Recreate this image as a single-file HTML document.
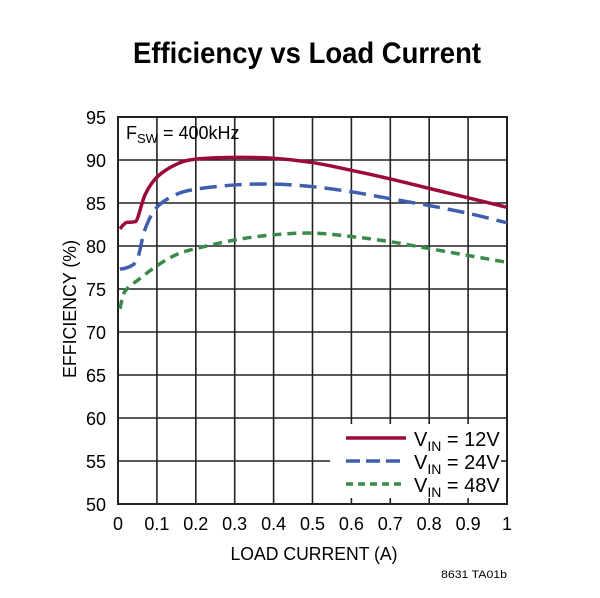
<!DOCTYPE html>
<html><head><meta charset="utf-8"><style>
html,body{margin:0;padding:0;background:#fff;}
svg{display:block;font-family:"Liberation Sans Narrow","Liberation Sans",sans-serif;}
</style></head><body>
<svg id="chart" width="600" height="598" viewBox="0 0 600 598" xmlns="http://www.w3.org/2000/svg">
<text x="307" y="63" text-anchor="middle" font-size="30" font-weight="bold" textLength="348" lengthAdjust="spacingAndGlyphs">Efficiency vs Load Current</text>
<g id="grid"></g>
<g id="series"></g>
<g id="legend"></g>
<text x="126" y="139" font-size="18">F<tspan font-size="13" dy="4">SW</tspan><tspan dy="-4"> = 400kHz</tspan></text>
<text transform="translate(76,309) rotate(-90)" text-anchor="middle" font-size="18" textLength="138" lengthAdjust="spacingAndGlyphs">EFFICIENCY (%)</text>
<text x="314" y="560" text-anchor="middle" font-size="18" textLength="167" lengthAdjust="spacingAndGlyphs">LOAD CURRENT (A)</text>
<text x="507" y="578" text-anchor="end" font-size="11" textLength="66" lengthAdjust="spacingAndGlyphs">8631 TA01b</text>
</svg>
<script>
const xTicks=[0,0.1,0.2,0.3,0.4,0.5,0.6,0.7,0.8,0.9,1];
const xTickLabels=["0","0.1","0.2","0.3","0.4","0.5","0.6","0.7","0.8","0.9","1"];
const yTicks=[50,55,60,65,70,75,80,85,90,95];
const load12=[0.005,0.02,0.04,0.05,0.07,0.1,0.15,0.2,0.3,0.4,0.5,0.6,0.7,0.8,0.9,1.0];
const eff12=[82,82.7,82.8,83.2,86,88,89.5,90.1,90.3,90.2,89.7,88.8,87.8,86.7,85.6,84.5];
const load24=[0.005,0.03,0.05,0.07,0.1,0.15,0.2,0.3,0.4,0.5,0.6,0.7,0.8,0.9,1.0];
const eff24=[77.3,77.6,78.5,82,84.5,86,86.6,87.1,87.2,86.9,86.3,85.5,84.7,83.8,82.7];
const load48=[0.005,0.015,0.03,0.05,0.1,0.15,0.2,0.3,0.4,0.5,0.6,0.7,0.8,0.9,1.0];
const eff48=[72.7,74.5,75.3,76,77.7,79,79.7,80.7,81.3,81.5,81.1,80.5,79.7,78.9,78.1];
const seriesNames=["VIN = 12V","VIN = 24V","VIN = 48V"];

const NS="http://www.w3.org/2000/svg";
const L=118,R=507,T=117,B=504;
const X=v=>L+(R-L)*v;
const Y=v=>B-(B-T)*(v-50)/45;
function mk(tag,attrs,parent){const e=document.createElementNS(NS,tag);for(const k in attrs)e.setAttribute(k,attrs[k]);parent.appendChild(e);return e;}
const grid=document.getElementById('grid');
xTicks.forEach((t,i)=>{
  if(i>0&&i<xTicks.length-1){const l=mk('line',{x1:X(t),x2:X(t),y1:T,y2:B,stroke:'#222','stroke-width':1.6},grid);
  
  }
  const tx=mk('text',{x:X(t),y:530,'text-anchor':'middle','font-size':18},grid);
  
  
  tx.textContent=xTickLabels[i];
});
yTicks.forEach(t=>{
  if(t>50&&t<95){const l=mk('line',{x1:L,x2:R,y1:Y(t),y2:Y(t),stroke:'#222','stroke-width':1.6},grid);
  
  }
  const tx=mk('text',{x:106,y:Y(t)+7,'text-anchor':'end','font-size':18},grid);
  
  
  tx.textContent=t;
});
// legend box
const lg=document.getElementById('legend');
const bx=mk('rect',{x:330,y:Y(60)+1,width:R-331,height:B-Y(60)-2,fill:'#fff'},grid);


[0.6,0.7,0.8,0.9].forEach(t=>{mk('line',{x1:X(t),x2:X(t),y1:Y(60),y2:Y(60)+6,stroke:'#222','stroke-width':1.6},grid);mk('line',{x1:X(t),x2:X(t),y1:B-6,y2:B,stroke:'#222','stroke-width':1.6},grid);});
mk('line',{x1:R-6,x2:R,y1:Y(55),y2:Y(55),stroke:'#222','stroke-width':1.6},grid);
const fr=mk('rect',{x:L,y:T,width:R-L,height:B-T,fill:'none',stroke:'#222','stroke-width':2},grid);


const sg=document.getElementById('series');
const defs=[[load12,eff12,'#9b0a3a','none','line-12v'],[load24,eff24,'#3f5fae','17 8','line-24v'],[load48,eff48,'#3a8a4a','9 6','line-48v']];
function smooth(xs,ys){const p=xs.map((x,i)=>[X(x),Y(ys[i])]);let d=`M${p[0][0]},${p[0][1]}`;
for(let i=0;i<p.length-1;i++){const p0=p[i-1]||p[i],p1=p[i],p2=p[i+1],p3=p[i+2]||p2;
d+=` C${p1[0]+(p2[0]-p0[0])/6},${p1[1]+(p2[1]-p0[1])/6} ${p2[0]-(p3[0]-p1[0])/6},${p2[1]-(p3[1]-p1[1])/6} ${p2[0]},${p2[1]}`;}return d;}
defs.forEach(([xs,ys,c,da,n])=>{const p=mk('path',{d:smooth(xs,ys),fill:'none',stroke:c,'stroke-width':3.5,'stroke-dasharray':da},sg);

});
defs.forEach(([xs,ys,c,da],i)=>{const yy=438+i*23;
const ln=mk('line',{x1:346,x2:406,y1:yy,y2:yy,stroke:c,'stroke-width':3.5,'stroke-dasharray':da==='none'?'none':(i==1?'14 6':'7 5')},lg);


const t=mk('text',{x:414,y:yy+8,'font-size':20},lg);


const parts=seriesNames[i].split(' = ');
t.innerHTML=`V<tspan font-size="14" dy="5">IN</tspan><tspan dy="-5"> = ${parts[1]}</tspan>`;});
</script>
</body></html>
